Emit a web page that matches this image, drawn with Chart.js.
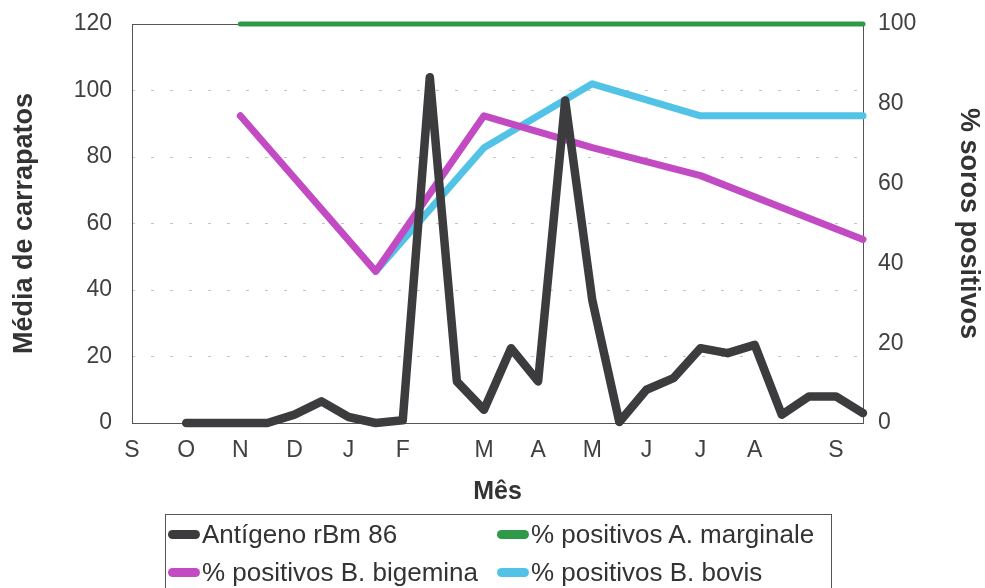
<!DOCTYPE html>
<html>
<head>
<meta charset="utf-8">
<script src="https://cdn.jsdelivr.net/npm/chart.js@4.4.1/dist/chart.umd.min.js"></script>
<style>
  html, body { margin: 0; padding: 0; background: #fff; }
  #wrap { position: relative; width: 985px; height: 588px; overflow: hidden; }
  #chart { display: block; }
  #legend {
    position: absolute; left: 165px; top: 514px; width: 667px; height: 90px;
    border: 1px solid #555; box-sizing: border-box;
    font-family: "Liberation Sans", Arial, sans-serif; font-size: 26px; color: #333;
  }
  .leg-item { position: absolute; display: flex; align-items: center; white-space: nowrap; }
  .leg-sym { width: 32px; height: 9px; border-radius: 5px; margin-right: 2px; }
</style>
</head>
<body>
<div id="wrap">
  <canvas id="chart" width="985" height="588"></canvas>
  <div id="legend"></div>
</div>
<script>
// ── data ──────────────────────────────────
// x in month units, 0 = S (Sept) at the left edge
var tickPos    = [0, 1, 2, 3, 4, 5, 6.5, 7.5, 8.5, 9.5, 10.5, 11.5, 13];
var tickLabels = ['S', 'O', 'N', 'D', 'J', 'F', 'M', 'A', 'M', 'J', 'J', 'A', 'S'];

var rbmX = [1, 1.5, 2, 2.5, 3, 3.5, 4, 4.5, 5, 5.5, 6, 6.5, 7, 7.5, 8, 8.5, 9, 9.5, 10, 10.5, 11, 11.5, 12, 12.5, 13, 13.5];
var rbm  = [0, 0, 0, 0, 2.5, 6.5, 1.8, 0, 0.8, 104, 12.5, 4, 22.5, 12.5, 97, 37, 0.3, 10, 13.5, 22.5, 21, 23.5, 2.5, 8, 8, 3];

var serolX     = [2, 4.5, 6.5, 8.5, 10.5, 13.5];
var marginale  = [100, 100, 100, 100, 100, 100];
var bigemina   = [77, 38, 77, 69, 62, 46];
var bovisX     = [4.5, 6.5, 8.5, 10.5, 13.5];
var bovis      = [38, 69, 85, 77, 77];

function pts(xs, ys) {
  return xs.map(function (x, i) { return { x: x, y: ys[i] }; });
}

var FONT = '"Liberation Sans", Arial, sans-serif';
var TICK = '#404040';

var frame = {
  id: 'frame',
  beforeDatasetsDraw: function (c) {
    var a = c.chartArea, ctx = c.ctx;
    ctx.save();
    ctx.strokeStyle = '#555';
    ctx.lineWidth = 1;
    ctx.strokeRect(Math.round(a.left) + 0.5, Math.round(a.top) + 0.5,
                   Math.round(a.right - a.left), Math.round(a.bottom - a.top));
    ctx.restore();
  }
};

function line(label, data, color, width, axis) {
  return {
    label: label, data: data, yAxisID: axis,
    borderColor: color, backgroundColor: color,
    borderWidth: width, pointRadius: 0, pointHoverRadius: 0,
    borderCapStyle: 'round', borderJoinStyle: 'round',
    tension: 0, fill: false, clip: false,
  };
}

function fixY(w) {
  return function (s) { s.width = w; s.paddingTop = 0; s.paddingBottom = 0; };
}

var chart = new Chart(document.getElementById('chart').getContext('2d'), {
  type: 'line',
  data: {
    datasets: [
      line('Antígeno rBm 86',          pts(rbmX, rbm),         '#3c3c3e', 8.5, 'y'),
      line('% positivos A. marginale', pts(serolX, marginale), '#2e9a47', 5, 'y2'),
      line('% positivos B. bigemina',  pts(serolX, bigemina),  '#c24bc4', 7, 'y2'),
      line('% positivos B. bovis',     pts(bovisX, bovis),     '#52c3e6', 7, 'y2'),
    ],
  },
  plugins: [frame],
  options: {
    responsive: false,
    animation: false,
    layout: { padding: { top: 24, bottom: 81, left: 0, right: 0 } },
    plugins: { legend: { display: false }, tooltip: { enabled: false } },
    scales: {
      x: {
        type: 'linear', min: 0, max: 13.5,
        afterBuildTicks: function (s) { s.ticks = tickPos.map(function (v) { return { value: v }; }); },
        afterFit: function (s) { s.height = 84; },
        grid: { display: false },
        border: { display: false },
        ticks: {
          autoSkip: false, maxRotation: 0, padding: 6, color: TICK,
          font: { family: FONT, size: 23 },
          callback: function (v) { var i = tickPos.indexOf(v); return i < 0 ? '' : tickLabels[i]; },
        },
        title: { display: true, text: 'Mês', color: '#333', padding: 0,
                 font: { family: FONT, size: 25, weight: 'bold' } },
      },
      y: {
        position: 'left', min: 0, max: 120,
        afterFit: fixY(132),
        grid: {
          drawTicks: false, lineWidth: 1,
          color: function (c) { var v = c.tick && c.tick.value; return (v === 0 || v === 120) ? 'transparent' : '#c4c4c4'; },
        },
        border: { display: false, dash: [3, 16] },
        ticks: { stepSize: 20, padding: 20, color: TICK, font: { family: FONT, size: 23 } },
        title: { display: true, text: 'Média de carrapatos', color: '#333', padding: { top: 8, bottom: 0 },
                 font: { family: FONT, size: 27, weight: 'bold' } },
      },
      y2: {
        position: 'right', min: 0, max: 100,
        afterFit: fixY(122),
        grid: { display: false, drawTicks: false },
        border: { display: false },
        ticks: { stepSize: 20, padding: 15, color: TICK, font: { family: FONT, size: 23 } },
        title: { display: true, text: '% soros positivos', color: '#333', padding: { top: 0, bottom: 0 },
                 font: { family: FONT, size: 27, weight: 'bold' } },
      },
    },
  },
});

// legend built from the datasets, two columns
var legendPos = [[2, 19], [331, 19], [2, 57], [331, 57]];
var leg = document.getElementById('legend');
chart.data.datasets.forEach(function (ds, i) {
  var it = document.createElement('div');
  it.className = 'leg-item';
  it.style.left = legendPos[i][0] + 'px';
  it.style.top = (legendPos[i][1] - 15) + 'px';
  it.style.height = '30px';
  it.innerHTML = '<span class="leg-sym" style="background:' + ds.borderColor + '"></span><span>' + ds.label + '</span>';
  leg.appendChild(it);
});
</script>
</body>
</html>
